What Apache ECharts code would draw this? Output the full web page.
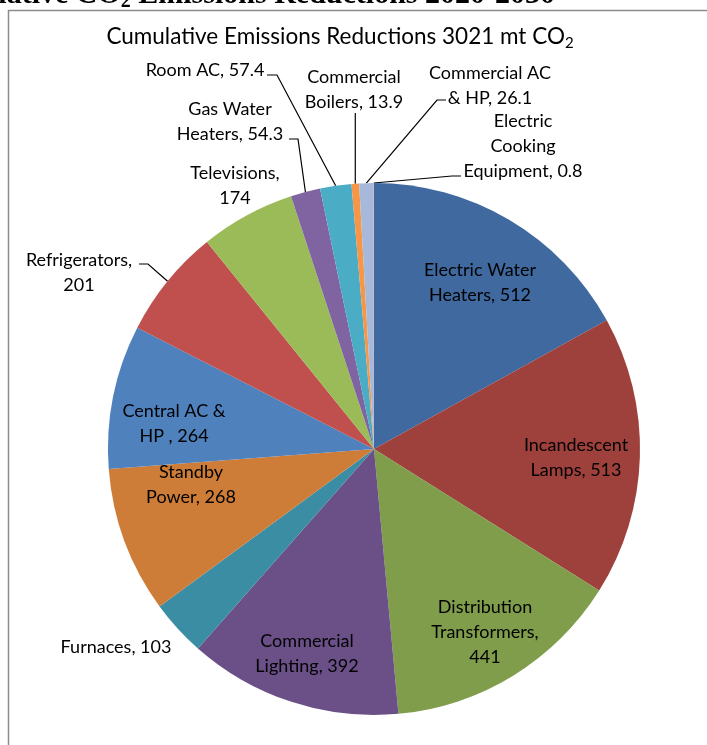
<!DOCTYPE html>
<html><head><meta charset="utf-8">
<script src="https://cdn.jsdelivr.net/npm/echarts@6/dist/echarts.min.js"></script>
<style>html,body{margin:0;padding:0;background:#fff}#c{width:707px;height:745px}</style>
</head><body><div id="c"></div>
<script>
// ---- data ----
const categories = ['Electric Water\nHeaters', 'Incandescent\nLamps', 'Distribution\nTransformers', 'Commercial\nLighting', 'Furnaces', 'Standby\nPower', 'Central AC &\nHP ', 'Refrigerators', 'Televisions', 'Gas Water\nHeaters', 'Room AC', 'Commercial\nBoilers', 'Commercial AC\n& HP', 'Electric\nCooking\nEquipment'];
const values = [512, 513, 441, 392, 103, 268, 264, 201, 174, 54.3, 57.4, 13.9, 26.1, 0.8];
const valueOnNewLine = ['Distribution\nTransformers', 'Refrigerators', 'Televisions'];
const titleText = 'Cumulative Emissions Reductions 3021 mt CO';
const headText = 'Cumulative CO';
const headRest = ' Emissions Reductions 2020-2030';

// ---- styles / layout ----
const colors = ['#3F699F', '#9E403C', '#7F9D4B', '#6A5087', '#3B8DA4', '#CE7D38', '#4F81BD', '#C0504D', '#9BBB59', '#8064A2', '#4BACC6', '#F79646', '#A7B9DA', '#D99694'];
const CX = 374, CY = 449, R = 266;
const inside = [0, 1, 2, 3, 5, 6];
const noLine = [4, 8];
// label block centres
const labelAt = {0:[480,283],1:[576,458],2:[485,632],3:[307,654],4:[116,647],5:[191,485],6:[174,424],7:[79,273],8:[235,186],9:[230,122],10:[205,70],11:[354,90],12:[490,86],13:[523,146]};
// leader line: elbow and end (label side)
const leader = {7:[[148,264],[139,264]],9:[[298,139],[289,139]],10:[[277,75],[267,75]],11:[null,[0,113]],12:[[437,100],[446,100]],13:[[452,176],[461,176]]};

const total = values.reduce((a,b)=>a+b,0);
const midAngle = [];
{ let acc = 0; values.forEach(v => { midAngle.push((acc + v/2) / total * 2 * Math.PI); acc += v; }); }

const data = values.map((v,i) => ({
  name: categories[i], value: v,
  itemStyle: {color: colors[i]},
  label: {position: inside.includes(i) ? 'inside' : 'outside'},
  labelLine: {show: !inside.includes(i) && !noLine.includes(i)}
}));

const chart = echarts.init(document.getElementById('c'), null, {renderer:'canvas'});
chart.setOption({
  animation: false,
  backgroundColor: '#fff',
  graphic: [
    {type:'rect', shape:{x:8.5, y:10.5, width:900, height:900}, style:{fill:null, stroke:'#8c8c8c', lineWidth:1.5}, z:0},
    {type:'text', x:555, y:12, style:{text:'{a|' + headText + '}{s|2}{a|' + headRest + '}', align:'right', verticalAlign:'bottom',
      rich:{a:{fontFamily:'Liberation Serif', fontWeight:'bold', fontSize:30, fill:'#000'}, s:{fontFamily:'Liberation Serif', fontWeight:'bold', fontSize:20, fill:'#000', padding:[14,0,0,0]}}}},
    {type:'text', x:340, y:37, style:{text:'{a|' + titleText + '}{s|2}', align:'center', verticalAlign:'middle',
      rich:{a:{fontFamily:'Lato', fontSize:22.5, fill:'#000'}, s:{fontFamily:'Lato', fontSize:15, fill:'#000', padding:[12,0,0,0]}}}}
  ],
  series: [{
    type: 'pie',
    center: [CX, CY],
    radius: [0, R],
    startAngle: 90,
    clockwise: true,
    avoidLabelOverlap: false,
    itemStyle: {borderWidth: 0},
    emphasis: {disabled: true},
    label: {
      color: '#000', fontFamily: 'Lato', fontSize: 18, lineHeight: 25, align: 'center',
      formatter: p => p.name + (valueOnNewLine.includes(p.name) ? ',\n' : ', ') + p.value
    },
    labelLine: {lineStyle: {color: '#000', width: 1.2}},
    labelLayout: function (p) {
      const i = p.dataIndex;
      const pos = labelAt[i];
      const out = {x: pos[0], y: pos[1], align: 'center', verticalAlign: 'middle'};
      if (leader[i]) {
        const a = midAngle[i];
        const edge = [CX + R * Math.sin(a), CY - R * Math.cos(a)];
        const [elbow, end] = leader[i];
        if (elbow) out.labelLinePoints = [edge, elbow, end];
        else out.labelLinePoints = [edge, [edge[0], (edge[1]+end[1])/2], [edge[0], end[1]]];
      }
      return out;
    },
    data: data
  }]
});
</script>
</body></html>
